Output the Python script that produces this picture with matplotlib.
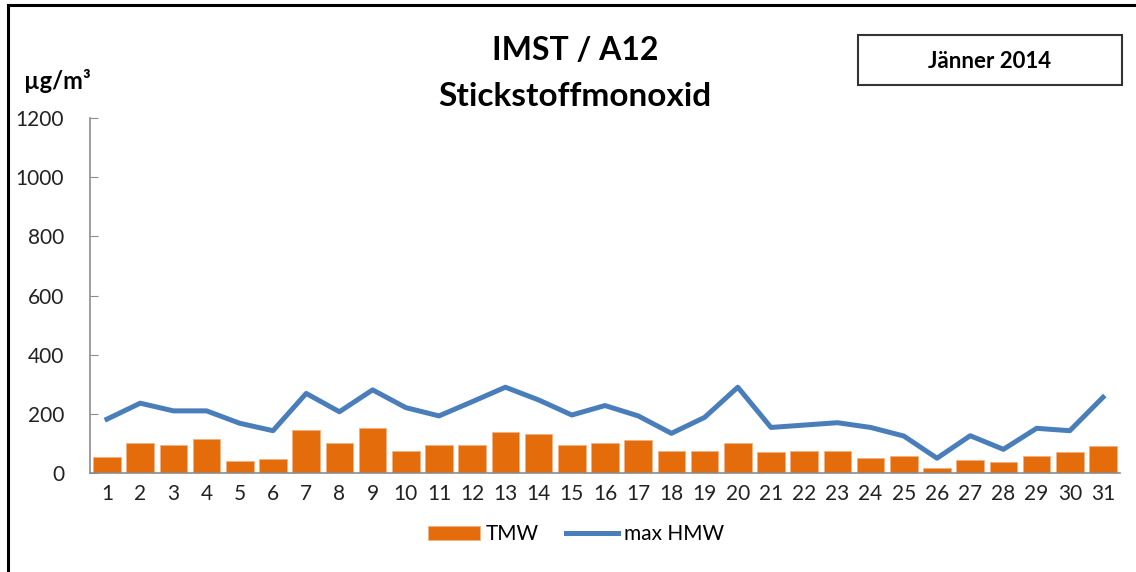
import matplotlib
matplotlib.use("Agg")
from matplotlib import pyplot as plt
from matplotlib.lines import Line2D
from matplotlib.patches import Rectangle

# data
days = list(range(1, 32))
tmw = [55, 102, 96, 116, 42, 48, 144, 102, 151, 75, 96, 96, 137, 131, 96, 102,
       111, 76, 76, 102, 70, 76, 76, 50, 56, 16, 43, 36, 56, 70, 90]
max_hmw = [182, 236, 210, 210, 168, 143, 269, 207, 281, 221, 193, 241, 290, 247,
           196, 228, 193, 134, 188, 290, 154, 162, 170, 154, 125, 50, 126, 80,
           151, 143, 256]
yticks = [0, 200, 400, 600, 800, 1000, 1200]

plt.rcParams['font.family'] = ['Lato', 'DejaVu Sans']

fig = plt.figure(figsize=(11.36, 5.72), dpi=100)
ax = fig.add_axes([90.4 / 1136, 1 - 473 / 572, (1119.6 - 90.4) / 1136, (473 - 118) / 572])

bars = ax.bar(days, tmw, width=0.83, color='#E46C0A', edgecolor='#F4B183', linewidth=0.6,
              label='TMW', zorder=2)
line, = ax.plot(days, max_hmw, color='#4A7EBB', linewidth=3.6, label='max HMW', zorder=3,
                solid_joinstyle='round')

ax.set_xlim(0.5, 31.5)
ax.set_ylim(0, 1200)
ax.set_yticks(yticks)
ax.set_xticks(days)
ax.set_xticklabels([str(d) for d in days])
for s in ['top', 'right']:
    ax.spines[s].set_visible(False)
for s in ['left', 'bottom']:
    ax.spines[s].set_color('#8c8c8c')
    ax.spines[s].set_linewidth(1.2)
ax.tick_params(axis='y', direction='in', length=6, color='#8c8c8c', pad=19,
               labelsize=15, labelcolor='#222222')
ax.tick_params(axis='x', length=0, pad=8, labelsize=15, labelcolor='#222222')

fig.text(575 / 1136, 1 - 50 / 572, 'IMST / A12', ha='center', va='center',
         fontsize=23, fontweight='bold')
fig.text(575 / 1136, 1 - 97 / 572, 'Stickstoffmonoxid', ha='center', va='center',
         fontsize=24, fontweight='bold')
fig.text(24 / 1136, 1 - 81 / 572, 'µg/m³', ha='left', va='center',
         fontsize=17, fontweight='bold')

fig.add_artist(Rectangle((858 / 1136, 1 - 85 / 572), 264 / 1136, 50 / 572,
                         transform=fig.transFigure, fill=False,
                         edgecolor='#333333', linewidth=1.5))
fig.text(990 / 1136, 1 - 61 / 572, 'Jänner 2014', ha='center', va='center',
         fontsize=16, fontweight='bold')

fig.legend(handles=[bars, line], labels=['TMW', 'max HMW'], loc='center',
           bbox_to_anchor=(576 / 1136, 1 - 534 / 572), ncol=2,
           frameon=False, fontsize=15, handlelength=2.5, handleheight=0.65,
           columnspacing=1.3, handletextpad=0.3)

# outer frame
fig.add_artist(Line2D([8 / 1136, 8 / 1136], [0, 1 - 5 / 572],
                      transform=fig.transFigure, color='black', linewidth=2.2))
fig.add_artist(Line2D([8 / 1136, 1], [1 - 5 / 572, 1 - 5 / 572],
                      transform=fig.transFigure, color='black', linewidth=2.2))

fig.savefig('out.png', dpi=100)
